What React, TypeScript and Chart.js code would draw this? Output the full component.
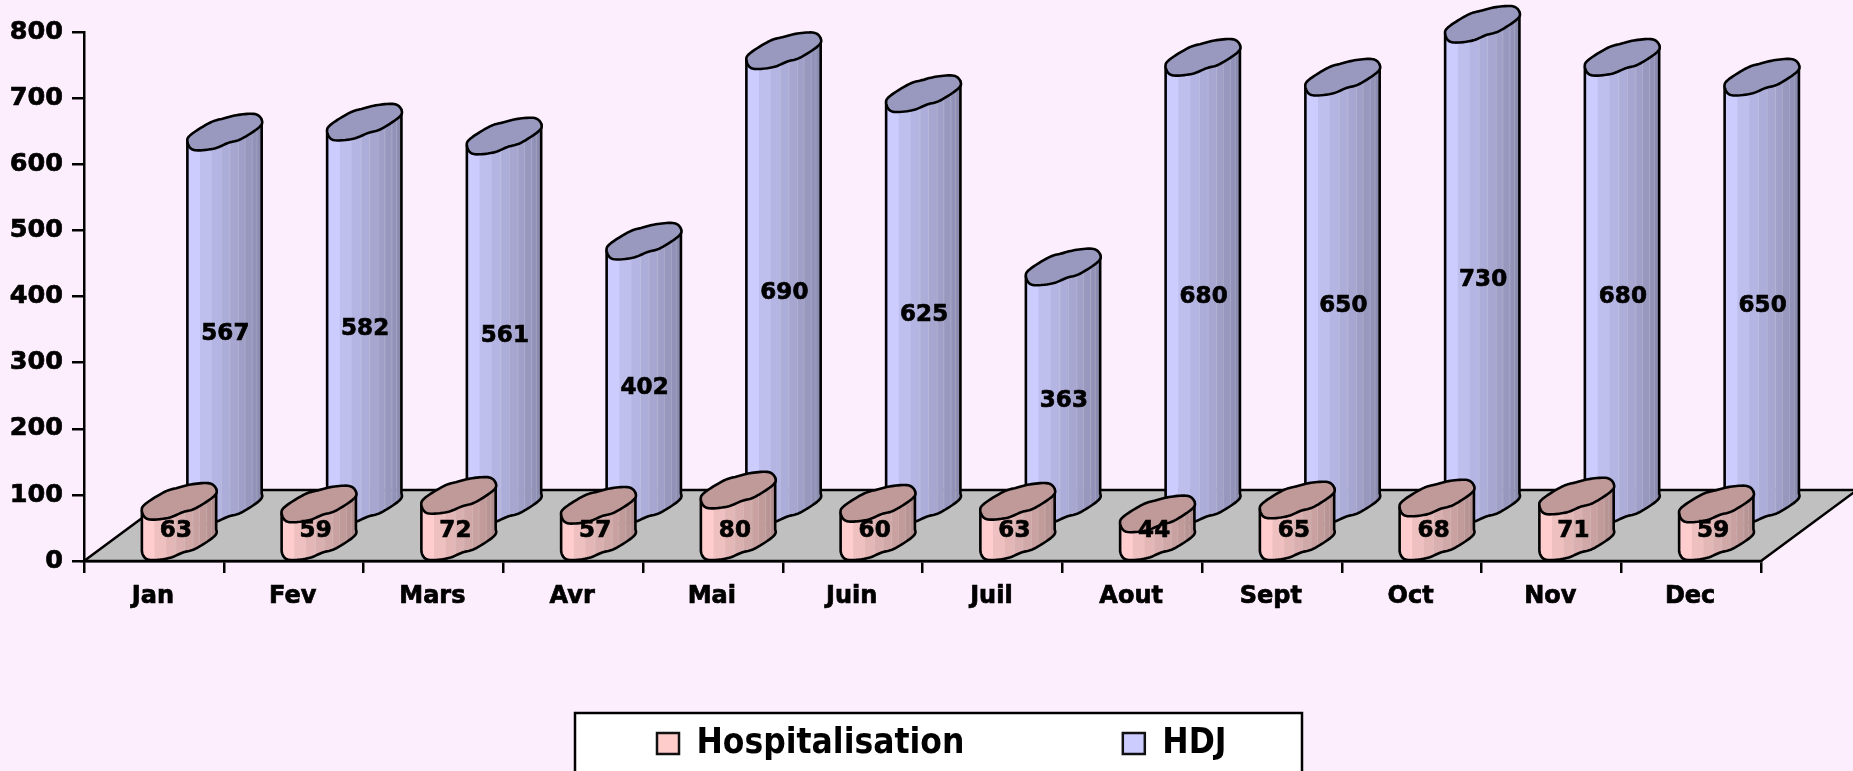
import React, { useEffect, useRef } from "react";
import { Chart, registerables } from "chart.js";

Chart.register(...registerables);

const categories = ["Jan", "Fev", "Mars", "Avr", "Mai", "Juin", "Juil", "Aout", "Sept", "Oct", "Nov", "Dec"];
const hospitalisation = [63, 59, 72, 57, 80, 60, 63, 44, 65, 68, 71, 59];
const hdj = [567, 582, 561, 402, 690, 625, 363, 680, 650, 730, 680, 650];
const yTicks = [0, 100, 200, 300, 400, 500, 600, 700, 800];

const FONT = '"DejaVu Sans", sans-serif';
const LEGEND_FONT = '"DejaVu Sans Condensed", "DejaVu Sans", sans-serif';
const BG = "#fceefc";
const bandStops = [0, 0.17, 0.33, 0.45, 0.565, 0.68, 0.77, 0.865, 0.93, 1];

type Look = { dx: number; dy: number; from: number[]; to: number[]; cap: string };
const looks: Look[] = [
  { dx: 25, dy: 18, from: [255, 205, 205], to: [178, 142, 142], cap: "#c09999" },
  { dx: 70.5, dy: 54, from: [204, 204, 255], to: [140, 140, 176], cap: "#9999bf" },
];

// Outline of one cylinder cap, relative to its centre (a shape, not data).
const capShape: [number, number][] = [
  [-37, 9.3], [-33, 2.2], [-14, -9.6], [-1, -13.6], [14, -17.2], [30.7, -18],
  [37.3, -12.3], [35.2, -5.2], [17, 6.8], [4, 10.8], [-11, 16.6], [-31, 17.8],
];
const STEPS = 8;
const rimPoints: [number, number][] = (() => {
  const n = capShape.length;
  const out: [number, number][] = [];
  for (let i = 0; i < n; i++) {
    const p0 = capShape[(i + n - 1) % n];
    const p1 = capShape[i];
    const p2 = capShape[(i + 1) % n];
    const p3 = capShape[(i + 2) % n];
    for (let s = 0; s < STEPS; s++) {
      const t = s / STEPS;
      const f = (a: number, b: number, c: number, d: number) =>
        0.5 * (2 * b + (c - a) * t + (2 * a - 5 * b + 4 * c - d) * t * t + (3 * b - a - 3 * c + d) * t * t * t);
      out.push([f(p0[0], p1[0], p2[0], p3[0]), f(p0[1], p1[1], p2[1], p3[1])]);
    }
  }
  return out;
})();
const RIGHT_IDX = 6 * STEPS;

function cylinder(ctx: CanvasRenderingContext2D, cx: number, baseCy: number, topCy: number, look: Look) {
  const left = cx - 37;
  const width = 74.3;
  ctx.save();
  ctx.lineJoin = "round";
  ctx.lineWidth = 2.6;
  ctx.strokeStyle = "#000";

  ctx.beginPath();
  ctx.moveTo(cx + rimPoints[RIGHT_IDX][0], topCy + rimPoints[RIGHT_IDX][1]);
  ctx.lineTo(cx + rimPoints[0][0], topCy + rimPoints[0][1]);
  // lower edge, from the left extreme round to the right extreme
  for (let i = rimPoints.length; i >= RIGHT_IDX; i--) {
    const p = rimPoints[i % rimPoints.length];
    ctx.lineTo(cx + p[0], baseCy + p[1]);
  }
  ctx.closePath();
  ctx.save();
  ctx.clip();
  for (let i = 0; i < bandStops.length - 1; i++) {
    const f = Math.pow(i / (bandStops.length - 2), 0.75);
    const c = look.from.map((v, j) => Math.round(v + (look.to[j] - v) * f));
    ctx.fillStyle = `rgb(${c.join(",")})`;
    const x0 = left + width * bandStops[i];
    const x1 = left + width * bandStops[i + 1];
    ctx.fillRect(x0, topCy - 40, x1 - x0 + 0.5, baseCy - topCy + 90);
    if (i >= 3) {
      ctx.fillStyle = "rgba(255,255,255,0.18)";
      ctx.fillRect(x0, topCy - 40, 1, baseCy - topCy + 90);
    }
  }
  ctx.restore();
  ctx.stroke();

  ctx.beginPath();
  rimPoints.forEach((p, i) => {
    if (i === 0) ctx.moveTo(cx + p[0], topCy + p[1]);
    else ctx.lineTo(cx + p[0], topCy + p[1]);
  });
  ctx.closePath();
  ctx.fillStyle = look.cap;
  ctx.fill();
  ctx.stroke();
  ctx.restore();
}

const scenePlugin = {
  id: "scene",
  beforeLayout(chart: any) {
    const lg = chart.legend;
    if (lg && !lg.__wrapped) {
      const fit = lg.fit.bind(lg);
      lg.fit = () => {
        fit();
        lg.height = 58;
      };
      lg.__wrapped = true;
    }
  },
  afterLayout(chart: any) {
    const lg = chart.legend;
    const pad = lg.options.labels.padding;
    const shift = 657 - (pad + chart.width - lg.lineWidths[0]) / 2;
    lg.left = shift;
    lg.right = chart.width + shift;
    lg.top = 726 - pad;
  },
  beforeDraw(chart: any) {
    const ctx = chart.ctx;
    ctx.save();
    ctx.fillStyle = BG;
    ctx.fillRect(0, 0, chart.width, chart.height);
    ctx.fillStyle = "#fff";
    ctx.strokeStyle = "#000";
    ctx.lineWidth = 2.5;
    ctx.fillRect(575, 713, 727, 70);
    ctx.strokeRect(575, 713, 727, 70);
    ctx.restore();
  },
  beforeDatasetsDraw(chart: any) {
    const { ctx, chartArea: a } = chart;
    ctx.save();
    ctx.beginPath();
    ctx.moveTo(a.left, a.bottom);
    ctx.lineTo(a.left + 96, a.bottom - 71);
    ctx.lineTo(a.right + 96, a.bottom - 71);
    ctx.lineTo(a.right, a.bottom);
    ctx.closePath();
    ctx.fillStyle = "#c0c0c0";
    ctx.fill();
    ctx.lineWidth = 2.5;
    ctx.strokeStyle = "#000";
    ctx.stroke();
    ctx.restore();
  },
  beforeDatasetDraw(chart: any, args: any) {
    const look = looks[args.index];
    args.meta.data.forEach((el: any) => {
      cylinder(chart.ctx, el.x + look.dx, el.base - look.dy, el.y - look.dy, look);
    });
    return false;
  },
  afterDatasetsDraw(chart: any) {
    const ctx = chart.ctx;
    ctx.save();
    ctx.fillStyle = "#000";
    ctx.strokeStyle = "#000";
    ctx.lineWidth = 0.7;
    ctx.font = `bold 23px ${FONT}`;
    ctx.textAlign = "center";
    ctx.textBaseline = "middle";
    const put = (s: string, x: number, y: number) => {
      ctx.fillText(s, x, y);
      ctx.strokeText(s, x, y);
    };
    chart.getDatasetMeta(1).data.forEach((el: any, i: number) => {
      put(String(hdj[i]), el.x + looks[1].dx + 1, (el.y + el.base) / 2 - 39);
    });
    chart.getDatasetMeta(0).data.forEach((el: any, i: number) => {
      put(String(hospitalisation[i]), el.x + looks[0].dx - 3, el.base - 29);
    });
    ctx.restore();
  },
};

export default function App() {
  const ref = useRef<HTMLCanvasElement>(null);
  useEffect(() => {
    const chart = new Chart(ref.current!, {
      type: "bar",
      data: {
        labels: categories,
        datasets: [
          { label: "Hospitalisation", data: hospitalisation, backgroundColor: "#ffcccc", borderColor: "#111", borderWidth: 2.5, grouped: false },
          { label: "HDJ", data: hdj, backgroundColor: "#ccccff", borderColor: "#111", borderWidth: 2.5, grouped: false },
        ] as any,
      },
      plugins: [scenePlugin],
      options: {
        responsive: false,
        animation: false,
        devicePixelRatio: 1,
        events: [],
        layout: { padding: { top: 32, right: 92, left: 0, bottom: 0 } },
        plugins: {
          tooltip: { enabled: false },
          title: { display: false },
          legend: {
            display: true,
            position: "bottom",
            labels: {
              boxWidth: 22,
              boxHeight: 21,
              padding: 158.5,
              color: "#000",
              font: { family: LEGEND_FONT, weight: "bold", size: 35 },
            },
          },
        },
        scales: {
          x: {
            type: "category",
            offset: true,
            afterFit: (s: any) => {
              s.height = 152;
            },
            border: { color: "#000", width: 2.5 },
            grid: { offset: true, drawOnChartArea: false, color: "#000", tickColor: "#000", tickLength: 12, lineWidth: 2.5 },
            ticks: {
              color: "#000", padding: 9, maxRotation: 0, autoSkip: false, labelOffset: -1,
              textStrokeColor: "#000", textStrokeWidth: 0.7,
              font: { family: FONT, weight: "bold", size: 24 },
            },
          },
          y: {
            type: "linear",
            min: yTicks[0],
            max: yTicks[yTicks.length - 1],
            afterFit: (s: any) => {
              s.width = 84;
            },
            afterBuildTicks: (s: any) => {
              s.ticks = yTicks.map((value) => ({ value }));
            },
            border: { color: "#000", width: 2.5 },
            grid: { drawOnChartArea: false, color: "#000", tickColor: "#000", tickLength: 12, lineWidth: 2.5 },
            ticks: {
              color: "#000", padding: 9,
              textStrokeColor: "#000", textStrokeWidth: 0.7,
              font: { family: FONT, weight: "bold", size: 25.5 },
            },
          },
        },
      } as any,
    });
    return () => chart.destroy();
  }, []);
  return (
    <div style={{ position: "absolute", left: 0, top: 0, width: 1853, height: 771, overflow: "hidden", background: BG }}>
      <canvas ref={ref} width={1853} height={771} style={{ display: "block" }} />
    </div>
  );
}
